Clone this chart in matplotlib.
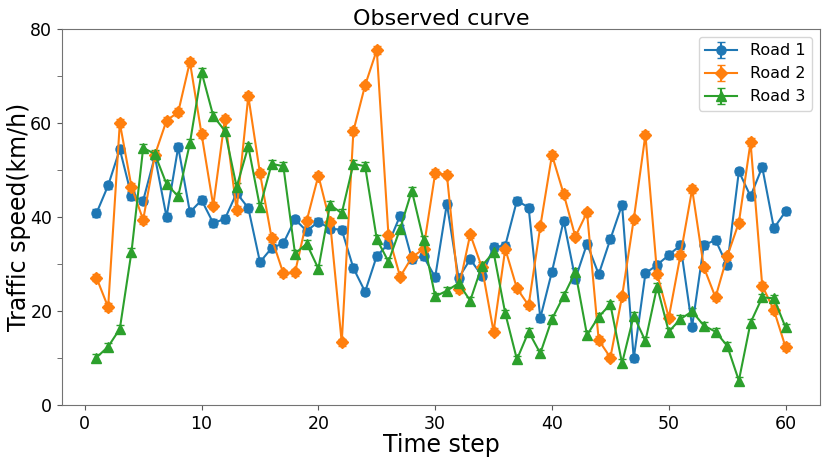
import matplotlib
matplotlib.use('Agg')
import matplotlib.pyplot as plt
from matplotlib.ticker import MultipleLocator

# time steps and observed speeds (km/h)
steps = list(range(1, 61))

road1 = [40.8, 46.7, 54.4, 44.5, 43.5, 52.9, 40.0, 54.9, 41.0, 43.6,
         38.7, 39.6, 45.1, 41.9, 30.4, 33.4, 34.4, 39.5, 37.0, 39.0,
         37.5, 37.3, 29.1, 24.1, 31.7, 34.3, 40.3, 31.1, 31.6, 27.2,
         42.8, 27.0, 31.0, 27.5, 33.6, 33.9, 43.5, 42.0, 18.5, 28.4,
         39.2, 26.8, 34.3, 27.8, 35.3, 42.6, 9.9, 28.0, 29.8, 31.9,
         34.0, 16.7, 34.0, 35.1, 29.7, 49.7, 44.4, 50.6, 37.6, 41.2]

road2 = [27.1, 20.8, 60.0, 46.4, 39.4, 53.2, 60.5, 62.3, 73.0, 57.6,
         42.4, 60.9, 41.5, 65.7, 49.3, 35.5, 28.0, 28.2, 39.2, 48.8,
         38.9, 13.3, 58.3, 68.0, 75.5, 36.1, 27.3, 31.4, 33.2, 49.3,
         49.0, 24.6, 36.3, 29.3, 15.6, 33.2, 24.8, 21.2, 38.0, 53.2,
         44.9, 35.8, 41.0, 13.8, 10.1, 23.1, 39.5, 57.5, 27.9, 18.6,
         31.9, 45.9, 29.3, 22.9, 31.6, 38.8, 55.9, 25.4, 20.2, 12.3]

road3 = [10.1, 12.4, 16.2, 32.6, 54.7, 53.4, 47.0, 44.4, 55.7, 70.8,
         61.5, 58.3, 46.4, 55.0, 42.1, 51.3, 50.8, 32.2, 34.3, 29.0,
         42.6, 40.8, 51.3, 50.8, 35.3, 30.5, 37.5, 45.6, 35.1, 23.1,
         24.3, 25.9, 22.2, 29.6, 32.5, 19.5, 9.7, 15.6, 11.0, 18.3,
         23.2, 28.3, 14.9, 18.8, 21.4, 8.9, 19.0, 13.6, 25.2, 15.6,
         18.3, 19.9, 16.9, 15.6, 12.6, 5.2, 17.5, 22.9, 22.7, 16.5]

err = 0.8  # small measurement error shown as error bars

series = [
    (road1, 'o', 'Road 1'),
    (road2, 'D', 'Road 2'),
    (road3, '^', 'Road 3'),
]

fig = plt.figure(figsize=(8.3, 4.59), dpi=100)
ax = fig.add_axes([0.0747, 0.1176, 0.9133, 0.8194])

for values, marker, name in series:
    ax.errorbar(steps, values, yerr=err, marker=marker, markersize=6.5,
                capsize=3, linewidth=1.5, label=name)

ax.set_ylim(0, 80)
ax.yaxis.set_major_locator(MultipleLocator(20))
ax.yaxis.set_minor_locator(MultipleLocator(10))
ax.tick_params(axis='both', which='both', labelsize=12.5, colors='0.35',
               labelcolor='black')
ax.tick_params(axis='y', which='minor', length=3.5)

for sp in ax.spines.values():
    sp.set_color('0.45')

ax.set_title('Observed curve', fontsize=16, pad=3)
ax.set_xlabel('Time step', fontsize=17, labelpad=0)
ax.set_ylabel('Traffic speed(km/h)', fontsize=17, labelpad=-0.5)
ax.legend(loc='upper right', fontsize=11.5)

fig.savefig('out.png', dpi=100)
